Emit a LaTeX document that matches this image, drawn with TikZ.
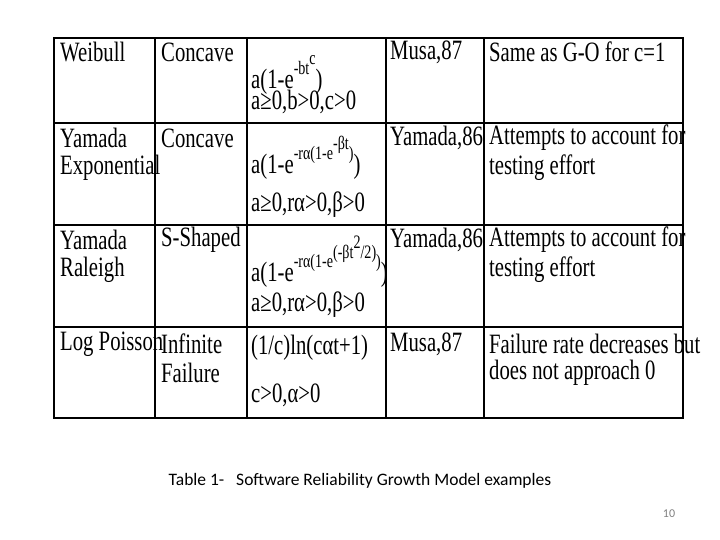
\documentclass[tikz,border=0pt]{standalone}
\usepackage{fontspec}
\setmainfont{Liberation Serif}[FakeStretch=0.74]
\newfontfamily\capfont{Carlito}
\newcommand{\supx}[1]{\raisebox{0.5em}{\fontsize{19}{19}\selectfont #1}}
\begin{document}
\begin{tikzpicture}[x=1pt,y=-1pt,
  cell/.style={anchor=west,inner sep=0pt,font=\fontsize{28}{28}\selectfont}]
\useasboundingbox (0,0) rectangle (720,540);
\draw[line width=2.2pt] (54,38) rectangle (683,418);
\foreach \x in {155,247,386,484} \draw[line width=1.8pt] (\x,38) -- (\x,418);
\foreach \y in {123,225,327} \draw[line width=2.2pt] (54,\y) -- (683,\y);
% row 1
\node[cell] (a1) at (60,52) {Weibull};
\node[cell] (b1) at (161,52) {Concave};
\node[cell] (c1) at (251,75) {a(1-e\supx{-bt\supx{c}})};
\node[cell] (c1b) at (251,102) {a≥0,b>0,c>0};
\node[cell] (d1) at (390,52) {Musa,87};
\node[cell] (e1) at (489,52) {Same as G-O for c=1};
% row 2
\node[cell] (a2) at (60,138) {Yamada};
\node[cell] (a2b) at (60,168) {Exponential};
\node[cell] (b2) at (161,138) {Concave};
\node[cell] (c2) at (251,158) {a(1-e\supx{-rα(1-e\supx{-βt})})};
\node[cell] (c2b) at (251,205) {a≥0,rα>0,β>0};
\node[cell] (d2) at (390,138) {Yamada,86};
\node[cell] (e2) at (489,138) {Attempts to account for};
\node[cell] (e2b) at (489,168) {testing effort};
% row 3
\node[cell] (a3) at (60,240) {Yamada};
\node[cell] (a3b) at (60,270) {Raleigh};
\node[cell] (b3) at (161,240) {S-Shaped};
\node[cell] (c3) at (251,262) {a(1-e\supx{-rα(1-e\supx{(-βt\supx{2}/2)})})};
\node[cell] (c3b) at (251,305) {a≥0,rα>0,β>0};
\node[cell] (d3) at (390,240) {Yamada,86};
\node[cell] (e3) at (489,240) {Attempts to account for};
\node[cell] (e3b) at (489,270) {testing effort};
% row 4
\node[cell] (a4) at (60,344) {Log Poisson};
\node[cell] (b4) at (161,344) {Infinite};
\node[cell] (b4b) at (161,373) {Failure};
\node[cell] (c4) at (251,348) {(1/c)ln(cαt+1)};
\node[cell] (c4b) at (251,395) {c>0,α>0};
\node[cell] (d4) at (390,344) {Musa,87};
\node[cell] (e4) at (489,344) {Failure rate decreases but};
\node[cell] (e4b) at (489,373) {does not approach 0};
% caption
\node[font=\capfont\fontsize{17.5}{18}\selectfont,inner sep=0pt] (cap) at (360,481) {Table 1-\ \ \ Software Reliability Growth Model examples};
\node[font=\capfont\fontsize{12}{12}\selectfont,text=gray,inner sep=0pt] (pg) at (669,514) {10};
\end{tikzpicture}
\end{document}
